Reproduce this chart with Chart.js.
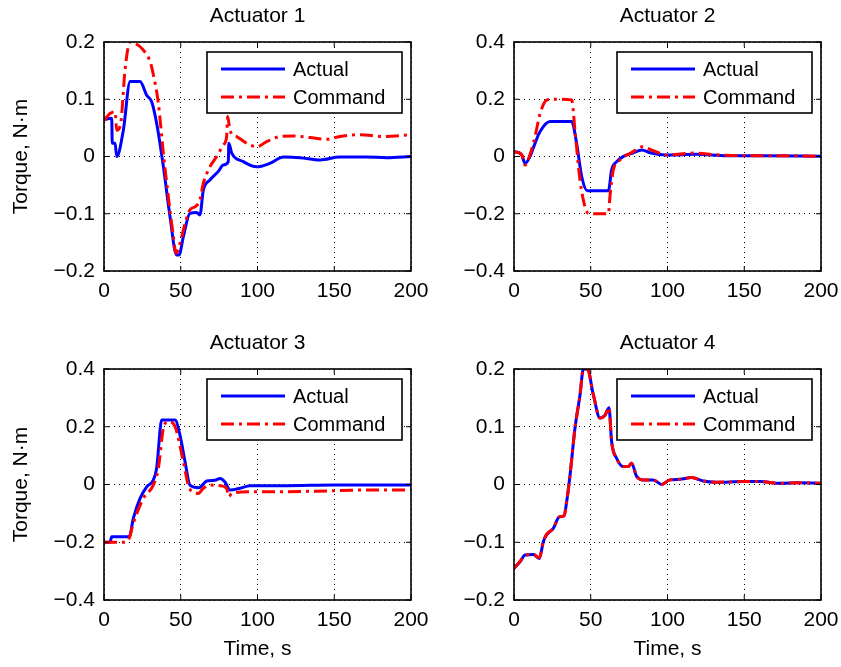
<!DOCTYPE html>
<html>
<head>
<meta charset="utf-8">
<title>Actuator torques</title>
<script src="https://cdn.jsdelivr.net/npm/chart.js@4.4.0/dist/chart.umd.min.js"></script>
<style>
  body { margin: 0; background: #fff; }
  #wrap { position: relative; width: 841px; height: 667px; }
  canvas { position: absolute; }
</style>
</head>
<body>
<div id="wrap">
  <canvas id="c1" style="left:0;top:0" width="450" height="333"></canvas>
  <canvas id="c2" style="left:420px;top:0" width="421" height="333"></canvas>
  <canvas id="c3" style="left:0;top:320px" width="450" height="347"></canvas>
  <canvas id="c4" style="left:420px;top:320px" width="421" height="347"></canvas>
</div>
<script>
// Actuator 1
const a1Time    = [0, 5, 5.4, 7.2, 8.3, 12.6, 17, 23.5, 27.8, 31, 34.3, 38.7, 43, 47.3, 48.9, 51.7, 56, 60.4, 62.5, 64.7, 69, 74.5, 77.7, 81, 81.3, 83.2, 90.8, 99.5, 108, 117, 127.7, 140.7, 153.7, 171, 184, 200];
const a1Actual  = [0.064, 0.067, 0.023, 0.023, 0.0, 0.046, 0.131, 0.131, 0.107, 0.096, 0.058, -0.018, -0.105, -0.172, -0.172, -0.140, -0.099, -0.098, -0.102, -0.059, -0.041, -0.026, -0.015, -0.009, 0.023, 0.006, -0.009, -0.018, -0.012, -0.001, -0.002, -0.006, -0.001, -0.001, -0.002, 0.0];
const a1CmdTime = [0, 3.9, 7.2, 8.3, 10.9, 13.7, 17, 20.2, 25.6, 30, 32, 35.4, 38.7, 41.9, 45.2, 46.9, 49.5, 52.8, 56, 59.3, 61.5, 62.5, 64.7, 69, 73.4, 77.7, 79.9, 80.6, 82, 86.4, 93, 99.5, 106, 114.7, 123.3, 134.2, 145, 153.7, 166.8, 182, 200];
const a1Command = [0.063, 0.075, 0.078, 0.046, 0.058, 0.151, 0.2, 0.198, 0.186, 0.166, 0.145, 0.093, 0.005, -0.070, -0.140, -0.169, -0.152, -0.117, -0.093, -0.088, -0.082, -0.076, -0.047, -0.018, 0.0, 0.020, 0.035, 0.070, 0.046, 0.035, 0.023, 0.017, 0.026, 0.035, 0.036, 0.033, 0.030, 0.035, 0.038, 0.035, 0.038];

// Actuator 2
const a2Time    = [0, 5, 7.2, 10.4, 13.7, 17, 23.5, 37.6, 40.8, 44.1, 47.8, 61.5, 63.6, 66.9, 71.2, 77.7, 83.2, 88.6, 99.5, 119, 138.5, 160, 200];
const a2Actual  = [0.017, 0.006, -0.024, 0.0, 0.046, 0.087, 0.122, 0.122, 0.046, -0.07, -0.12, -0.12, -0.047, -0.018, 0.0, 0.013, 0.023, 0.013, 0.005, 0.008, 0.003, 0.003, 0.001];
const a2CmdTime = [0, 5, 7.2, 10.4, 13.7, 17, 21.3, 25.6, 37.6, 39.7, 43, 46.9, 49.5, 61.5, 62.5, 64.7, 69, 77.7, 83.2, 90.8, 99.5, 117, 132, 149.4, 171, 200];
const a2Command = [0.017, 0.006, -0.03, 0.006, 0.07, 0.15, 0.197, 0.2, 0.197, 0.093, -0.082, -0.187, -0.2, -0.2, -0.14, -0.047, -0.012, 0.017, 0.034, 0.02, 0.005, 0.012, 0.006, 0.003, 0.003, 0.001];

// Actuator 3
const a3Time    = [0, 3.9, 5, 16.5, 19.1, 23.5, 27.8, 32.1, 34.3, 37.6, 46.3, 49.5, 52.8, 56, 61.9, 66.9, 72.3, 75.6, 78.8, 82.1, 88.6, 95.1, 119, 149.4, 200];
const a3Actual  = [-0.2, -0.2, -0.181, -0.181, -0.117, -0.048, -0.008, 0.015, 0.056, 0.223, 0.223, 0.171, 0.079, -0.002, -0.011, 0.012, 0.015, 0.021, 0.009, -0.019, -0.013, -0.004, -0.004, -0.002, -0.002];
const a3CmdTime = [0, 12.6, 15.9, 19.1, 25.6, 32.1, 35.4, 38.7, 41.9, 46.3, 51.7, 55.6, 61.5, 64.7, 69, 75.6, 79.8, 81.4, 83.2, 95.1, 116.8, 138.5, 171, 200];
const a3Command = [-0.2, -0.2, -0.192, -0.134, -0.048, -0.002, 0.056, 0.195, 0.218, 0.2, 0.079, -0.013, -0.031, -0.013, -0.002, -0.004, -0.013, -0.042, -0.031, -0.025, -0.025, -0.023, -0.019, -0.019];

// Actuator 4
const a4Time    = [0, 3.9, 7.2, 12.6, 16.5, 19.1, 21.3, 25.6, 29.5, 32.6, 34.3, 36.5, 39.7, 43, 45.2, 47.8, 51.7, 56, 59.3, 61.9, 63.6, 66.9, 71.2, 74.5, 76.6, 79.9, 84.3, 90.8, 96.2, 101.6, 108, 115.7, 123.3, 132, 149.4, 160.3, 173.3, 186.3, 200];
const a4Actual  = [-0.145, -0.134, -0.122, -0.121, -0.128, -0.099, -0.087, -0.076, -0.056, -0.054, -0.03, 0.016, 0.097, 0.155, 0.2, 0.2, 0.155, 0.115, 0.12, 0.133, 0.074, 0.045, 0.031, 0.031, 0.037, 0.014, 0.008, 0.008, 0.0, 0.008, 0.009, 0.012, 0.006, 0.004, 0.005, 0.005, 0.002, 0.003, 0.002];
const a4Command = [-0.145, -0.133, -0.123, -0.121, -0.127, -0.099, -0.086, -0.076, -0.056, -0.054, -0.03, 0.016, 0.097, 0.155, 0.2, 0.2, 0.156, 0.115, 0.12, 0.133, 0.074, 0.045, 0.031, 0.031, 0.037, 0.014, 0.008, 0.008, 0.0, 0.008, 0.009, 0.012, 0.006, 0.004, 0.005, 0.005, 0.002, 0.003, 0.002];

const timeTicks = [0, 50, 100, 150, 200];

const FONT = "'Liberation Sans', Arial, Helvetica, sans-serif";
const BLUE = '#0000ff';
const RED = '#ff0000';
const CMD_DASH = [13, 5, 3, 5];

const pts = (ts, vs) => ts.map((t, i) => ({x: t, y: vs[i]}));

const fmtTick = v => {
  if (Math.abs(v) < 1e-9) return '0';
  return (v < 0 ? '\u2212' : '') + Math.abs(v).toFixed(1);
};

// black box, inward ticks on all sides and the boxed legend inside the plot
const framePlugin = {
  id: 'frame',
  afterDatasetsDraw(chart) {
    const {ctx, chartArea: a, scales} = chart;
    const x = scales.x, y = scales.y;
    ctx.save();
    ctx.strokeStyle = '#000';
    ctx.lineWidth = 1;
    ctx.beginPath();
    x.ticks.forEach(t => {
      const px = x.getPixelForValue(t.value);
      ctx.moveTo(px, a.bottom); ctx.lineTo(px, a.bottom - 5);
      ctx.moveTo(px, a.top); ctx.lineTo(px, a.top + 5);
    });
    y.ticks.forEach(t => {
      const py = y.getPixelForValue(t.value);
      ctx.moveTo(a.left, py); ctx.lineTo(a.left + 5, py);
      ctx.moveTo(a.right, py); ctx.lineTo(a.right - 5, py);
    });
    ctx.stroke();
    ctx.lineWidth = 1.6;
    ctx.strokeRect(a.left, a.top, a.right - a.left, a.bottom - a.top);

    // legend
    const bw = 195, bh = 61;
    const bx = a.right - 9 - bw, by = a.top + 10;
    ctx.fillStyle = '#fff';
    ctx.fillRect(bx, by, bw, bh);
    ctx.lineWidth = 1.6;
    ctx.strokeRect(bx, by, bw, bh);
    ctx.font = '20px ' + FONT;
    ctx.textBaseline = 'middle';
    ctx.textAlign = 'left';
    [0, 1].forEach((di, r) => {
      const ds = chart.data.datasets[di];
      const ly = by + 17 + r * 28;
      ctx.save();
      ctx.strokeStyle = ds.borderColor;
      ctx.lineWidth = ds.borderWidth;
      ctx.setLineDash(ds.borderDash || []);
      ctx.beginPath();
      ctx.moveTo(bx + 14, ly);
      ctx.lineTo(bx + 78, ly);
      ctx.stroke();
      ctx.restore();
      ctx.fillStyle = '#000';
      ctx.fillText(ds.label, bx + 86, ly + 1);
    });
    ctx.restore();
  }
};

function makeChart(id, cfg) {
  return new Chart(document.getElementById(id), {
    type: 'line',
    data: {
      datasets: [
        {
          label: 'Actual',
          data: pts(cfg.actT, cfg.act),
          borderColor: BLUE,
          borderWidth: 3,
          pointRadius: 0,
          cubicInterpolationMode: 'monotone',
          order: 1
        },
        {
          label: 'Command',
          data: pts(cfg.cmdT, cfg.cmd),
          borderColor: RED,
          borderWidth: 3,
          borderDash: CMD_DASH,
          pointRadius: 0,
          cubicInterpolationMode: 'monotone',
          order: 0
        }
      ]
    },
    options: {
      responsive: false,
      animation: false,
      layout: {padding: {left: 0, right: cfg.padRight, top: 0, bottom: 0}},
      plugins: {
        legend: {display: false},
        tooltip: {enabled: false},
        title: {
          display: true,
          fullSize: false,
          text: cfg.title,
          color: '#000',
          font: {family: FONT, size: 21, weight: 'normal'},
          padding: {top: cfg.titleTop, bottom: 12.8}
        }
      },
      scales: {
        x: {
          type: 'linear',
          min: 0, max: 200,
          afterBuildTicks: s => { s.ticks = timeTicks.map(v => ({value: v})); },
          ticks: {color: '#000', padding: 8, maxRotation: 0, font: {family: FONT, size: 21}},
          grid: {color: '#000', lineWidth: 1, drawTicks: false},
          border: {display: false, dash: [1, 4]},
          title: {
            display: cfg.xTitle,
            text: 'Time, s',
            color: '#000',
            font: {family: FONT, size: 21},
            padding: {top: 0, bottom: 5}
          },
          afterFit: s => {
            s.height = cfg.xHeight;
            s.paddingLeft = 0; s.paddingRight = 0;
          }
        },
        y: {
          type: 'linear',
          min: cfg.yMin, max: cfg.yMax,
          ticks: {stepSize: cfg.yStep, color: '#000', padding: 9, font: {family: FONT, size: 21}, callback: fmtTick},
          grid: {color: '#000', lineWidth: 1, drawTicks: false},
          border: {display: false, dash: [1, 4]},
          title: {
            display: cfg.yTitle,
            text: 'Torque, N\u00b7m',
            color: '#000',
            font: {family: FONT, size: 21},
            padding: {top: 9, bottom: 0}
          },
          afterFit: s => {
            s.width = cfg.yWidth;
            s.paddingTop = 0; s.paddingBottom = 0;
          }
        }
      }
    },
    plugins: [framePlugin]
  });
}

makeChart('c1', {
  title: 'Actuator 1', titleTop: 4, padRight: 39, yWidth: 104, xHeight: 62,
  yMin: -0.2, yMax: 0.2, yStep: 0.1, yTitle: true, xTitle: false,
  actT: a1Time, act: a1Actual, cmdT: a1CmdTime, cmd: a1Command
});
makeChart('c2', {
  title: 'Actuator 2', titleTop: 4, padRight: 20, yWidth: 94, xHeight: 62,
  yMin: -0.4, yMax: 0.4, yStep: 0.2, yTitle: false, xTitle: false,
  actT: a2Time, act: a2Actual, cmdT: a2CmdTime, cmd: a2Command
});
makeChart('c3', {
  title: 'Actuator 3', titleTop: 11, padRight: 39, yWidth: 104, xHeight: 67,
  yMin: -0.4, yMax: 0.4, yStep: 0.2, yTitle: true, xTitle: true,
  actT: a3Time, act: a3Actual, cmdT: a3CmdTime, cmd: a3Command
});
makeChart('c4', {
  title: 'Actuator 4', titleTop: 11, padRight: 20, yWidth: 94, xHeight: 67,
  yMin: -0.2, yMax: 0.2, yStep: 0.1, yTitle: false, xTitle: true,
  actT: a4Time, act: a4Actual, cmdT: a4Time, cmd: a4Command
});
</script>
</body>
</html>
